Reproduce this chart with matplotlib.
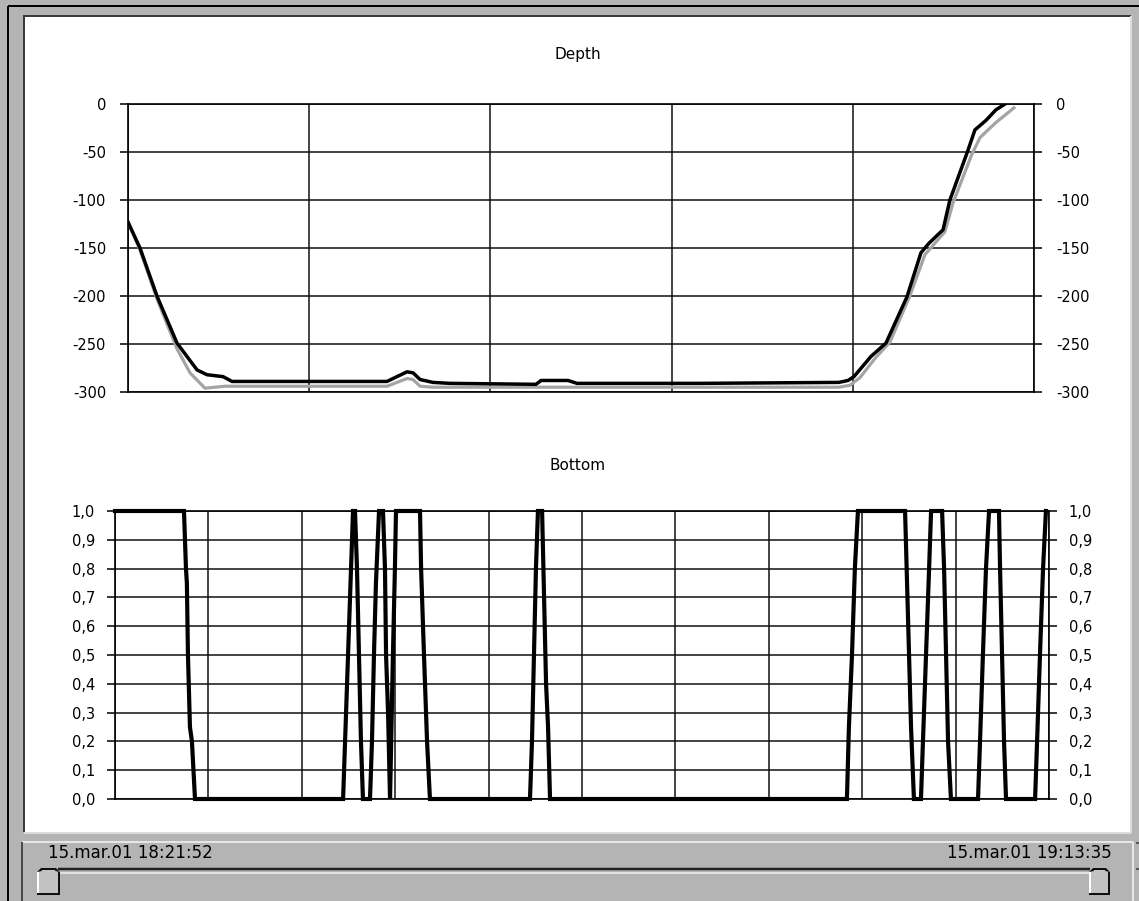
import matplotlib
matplotlib.use('Agg')
import matplotlib.pyplot as plt
import numpy as np
from matplotlib.patches import Rectangle, Polygon
from matplotlib.lines import Line2D

# ---------------- data (time in minutes since 15.mar.01 18:21:52) ----------------
start_label = "15.mar.01 18:21:52"
end_label = "15.mar.01 19:13:35"

depth_title = "Depth"
bottom_title = "Bottom"

depth_ticks = [0, -50, -100, -150, -200, -250, -300]
bottom_ticks = [0.0, 0.1, 0.2, 0.3, 0.4, 0.5, 0.6, 0.7, 0.8, 0.9, 1.0]

depth_time = [0.0, 0.70, 1.69, 2.86, 4.03, 4.61, 5.55, 6.07, 10.04, 15.12, 15.70,
              16.29, 16.64, 17.05, 17.80, 18.80, 23.82, 24.11, 25.69, 26.21, 33.39,
              41.50, 42.03, 42.38, 43.37, 44.25, 45.47, 46.29, 46.76, 47.58, 47.98,
              49.04, 49.44, 50.09, 50.67, 51.20]
depth_black = [-123, -150, -200, -249, -277, -282, -284, -289, -289, -289, -284,
               -279, -280, -287, -290, -291, -292, -288, -288, -291, -291,
               -290, -288, -284, -263, -249, -201, -155, -145, -131, -100,
               -48, -27, -17, -6, 0]

gray_time = [0.0, 0.70, 1.69, 2.86, 3.62, 4.49, 5.08, 5.66, 15.12, 15.70, 16.29,
             16.64, 17.05, 17.80, 41.50, 42.15, 42.73, 43.61, 44.48, 45.64, 46.52,
             47.69, 48.16, 49.27, 49.74, 50.62, 51.72]
depth_gray = [-123, -152, -203, -255, -280, -296, -295, -294, -294, -290, -286,
              -287, -294, -295, -295, -293, -285, -265, -248, -200, -157,
              -133, -103, -52, -35, -20, -4]

bottom_time = [0.0, 3.82, 3.93, 3.98, 4.04, 4.15, 4.26, 4.43,
               12.63, 12.74, 12.85, 12.96, 13.07, 13.18, 13.29, 13.40, 13.51, 13.62, 13.73,
               14.12, 14.23, 14.34, 14.45, 14.62, 14.84, 14.95, 15.01, 15.12, 15.23,
               15.39, 15.50, 15.56,
               16.89, 16.95, 17.11, 17.28, 17.44,
               22.98, 23.09, 23.20, 23.31, 23.42, 23.65, 23.76, 23.87, 23.98, 24.09,
               40.53, 40.64, 40.81, 40.97, 41.14,
               43.75, 43.86, 43.97, 44.08, 44.24,
               44.63, 44.74, 44.91, 45.08, 45.19,
               45.80, 45.91, 46.02, 46.13, 46.29,
               47.79, 47.90, 48.06, 48.23, 48.40,
               48.95, 49.01, 49.12, 49.23, 49.34,
               50.95, 51.06, 51.22, 51.39, 51.55]
bottom_value = [1.0, 1.0, 0.8, 0.75, 0.5, 0.25, 0.2, 0.0,
                0.0, 0.2, 0.4, 0.6, 0.8, 1.0, 1.0, 0.8, 0.5, 0.2, 0.0,
                0.0, 0.2, 0.5, 0.75, 1.0, 1.0, 0.8, 0.5, 0.3, 0.0,
                0.5, 0.8, 1.0,
                1.0, 0.8, 0.5, 0.2, 0.0,
                0.0, 0.2, 0.5, 0.8, 1.0, 1.0, 0.7, 0.4, 0.25, 0.0,
                0.0, 0.25, 0.5, 0.8, 1.0,
                1.0, 0.75, 0.5, 0.25, 0.0,
                0.0, 0.2, 0.5, 0.8, 1.0,
                1.0, 0.8, 0.5, 0.2, 0.0,
                0.0, 0.2, 0.5, 0.8, 1.0,
                1.0, 0.8, 0.5, 0.2, 0.0,
                0.0, 0.2, 0.5, 0.8, 1.0]

TOTAL_MIN = 51.72     # span of the bottom axis
TOP_SPAN = 52.89      # span of the depth axis

# ---------------- figure & window chrome ----------------
W, H = 1139, 901
plt.rcParams['font.family'] = ['DejaVu Sans']
fig = plt.figure(figsize=(W / 100, H / 100), dpi=100)
fig.patch.set_facecolor('#b4b4b4')

bg = fig.add_axes([0, 0, 1, 1], zorder=0)
bg.set_xlim(0, W)
bg.set_ylim(H, 0)
bg.axis('off')

def px_line(x0, y0, x1, y1, color, lw_px=1.0):
    bg.add_line(Line2D([x0, x1], [y0, y1], color=color, lw=lw_px * 0.72,
                       solid_capstyle='butt'))

# outer black edge
px_line(8, 6, W, 6, '#000000', 2)
px_line(8, 6, 8, H, '#000000', 2)
# white chart panel with sunken border
bg.add_patch(Rectangle((25, 17), 1106, 815, facecolor='white', edgecolor='none'))
px_line(23, 16, 1131, 16, '#3a3a3a', 2)
px_line(24, 16, 24, 832, '#3a3a3a', 2)
px_line(1131, 16, 1131, 833, '#dcdcdc', 2)
px_line(24, 833, 1131, 833, '#dcdcdc', 2)
# slider panel
px_line(22, 842, 1133, 842, '#e6e6e6', 2)
px_line(22, 842, 22, H, '#4a4a4a', 2)
px_line(1133, 842, 1133, H, '#e6e6e6', 2)
px_line(1136, 843, 1139, 843, '#3a3a3a', 1.5)
px_line(1136, 869, 1139, 869, '#3a3a3a', 1.5)
# slider track
px_line(58, 869, 1090, 869, '#202020', 2.5)
px_line(58, 873, 1090, 873, '#f0f0f0', 1.5)

def thumb(x0, x1, y0=868, y1=895):
    pts = [(x0, y0 + 4), (x0 + 4, y0), (x1 - 4, y0), (x1, y0 + 4), (x1, y1), (x0, y1)]
    bg.add_patch(Polygon(pts, closed=True, facecolor='#c2c2c2', edgecolor='none'))
    px_line(x0 + 1, y0 + 4, x0 + 1, y1, '#ffffff', 2)
    px_line(x0 + 4, y0 + 1, x1 - 4, y0 + 1, '#101010', 2)
    px_line(x1 - 1, y0 + 4, x1 - 1, y1, '#101010', 2)
    px_line(x0, y1 - 1, x1, y1 - 1, '#101010', 2)
    bg.add_patch(Polygon([(x0, y0 + 4), (x0 + 4, y0), (x0 + 5, y0 + 3)], closed=True,
                         facecolor='#101010', edgecolor='none'))
    bg.add_patch(Polygon([(x1, y0 + 4), (x1 - 4, y0), (x1 - 5, y0 + 3)], closed=True,
                         facecolor='#101010', edgecolor='none'))

thumb(37, 60)
thumb(1089, 1110)

bg.text(48, 853, start_label, ha='left', va='center', fontsize=12, color='#000000')
bg.text(1112, 853, end_label, ha='right', va='center', fontsize=12, color='#000000')

# ---------------- chart titles ----------------
bg.text(578, 55, depth_title, ha='center', va='center', fontsize=11)
bg.text(578, 465, bottom_title, ha='center', va='center', fontsize=11)

def style_axes(ax, pad):
    ax.set_facecolor('none')
    for s in ax.spines.values():
        s.set_color('#000000')
        s.set_linewidth(1.2)
    ax.grid(True, color='#111111', lw=1.1)
    ax.set_axisbelow(True)
    ax.tick_params(axis='x', length=0, labelbottom=False)
    ax.tick_params(axis='y', direction='out', length=5.8, width=1.1, color='#000000',
                   left=True, right=True, labelleft=True, labelright=True,
                   pad=pad, labelsize=10.5)

# ---------------- depth chart ----------------
ax1 = fig.add_axes([128 / W, 1 - 392 / H, 906 / W, 288 / H], zorder=2)
style_axes(ax1, 10)
ax1.set_xlim(0, TOP_SPAN)
ax1.set_ylim(-300, 0)
ax1.set_xticks(np.linspace(0, TOP_SPAN, 6))
ax1.set_yticks(depth_ticks)
ax1.set_yticklabels([str(v) for v in depth_ticks])
ax1.plot(gray_time, depth_gray, color='#a4a4a4', lw=2.3, solid_joinstyle='round', zorder=3)
ax1.plot(depth_time, depth_black, color='#000000', lw=2.5, solid_joinstyle='round', zorder=4)

# ---------------- bottom chart ----------------
ax2 = fig.add_axes([115 / W, 1 - 799 / H, 934 / W, 288 / H], zorder=2)
style_axes(ax2, 8.5)
ax2.set_xlim(0, TOTAL_MIN)
ax2.set_ylim(0, 1)
ax2.set_xticks(np.linspace(0, TOTAL_MIN, 11))
ax2.set_yticks(bottom_ticks)
ax2.set_yticklabels([f"{v:.1f}".replace('.', ',') for v in bottom_ticks])
ax2.plot(bottom_time, bottom_value, color='#000000', lw=3.0, solid_joinstyle='miter',
         zorder=4, clip_on=False)

fig.savefig('out.png', dpi=100, facecolor=fig.get_facecolor())
